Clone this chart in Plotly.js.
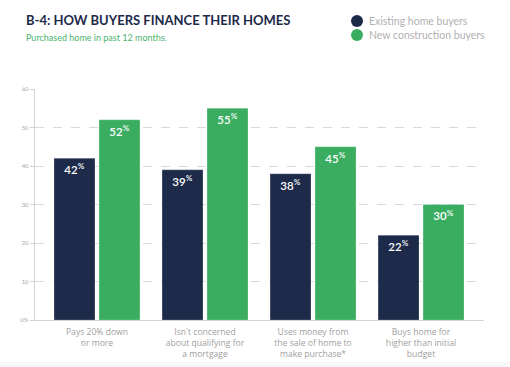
<!DOCTYPE html>
<html><head><meta charset="utf-8">
<script src="https://cdn.plot.ly/plotly-3.0.1.min.js"></script>
<style>html,body{margin:0;padding:0;background:#fff;}#chart{width:510px;height:367px;}</style>
</head><body><div id="chart"></div>
<script>
const categories = ["Pays 20% down<br>or more", "Isn't concerned<br>about qualifying for<br>a mortgage", "Uses money from<br>the sale of home to<br>make purchase*", "Buys home for<br>higher than initial<br>budget"];
const seriesNames = ["Existing home buyers", "New construction buyers"];
const existingBuyers = [42, 39, 38, 22];
const newConstruction = [52, 55, 45, 30];
const yTickVals = [0, 10, 20, 30, 40, 50, 60];
const yTickText = ["0%", "10", "20", "30", "40", "50", "60"];
const colors = ["#1d2a49", "#3aad61"];
const FONT = "Lato, 'Open Sans', sans-serif";

// plot area pixels: x 35..484, y 89..320
const PX = px => (px - 35) / 449;
const PY = py => (320 - py) / 231;

function barTrace(name, vals, color) {
  return {
    type: "bar", x: categories, y: vals, name: name, showlegend: false,
    marker: {color: color, line: {color: "rgba(255,255,255,0.35)", width: 0.6}},
    text: vals.map(v => v + "<sup>%</sup>"), texttemplate: "%{text}",
    textposition: "inside", insidetextanchor: "end",
    textfont: {color: "#ffffff", size: 11.5, family: FONT, weight: 600},
    hoverinfo: "skip", cliponaxis: false
  };
}

const data = [
  barTrace(seriesNames[0], existingBuyers, colors[0]),
  barTrace(seriesNames[1], newConstruction, colors[1])
];

const legendY = [21, 35];
const annotations = [
  {text: "B-4: HOW BUYERS FINANCE THEIR HOMES", xref: "paper", yref: "paper",
   x: PX(24), y: PY(20), xanchor: "left", yanchor: "middle", showarrow: false,
   font: {size: 13, color: "#1d2a49", family: FONT, weight: 700}},
  {text: "Purchased home in past 12 months.", xref: "paper", yref: "paper",
   x: PX(24), y: PY(37), xanchor: "left", yanchor: "middle", showarrow: false,
   font: {size: 9, color: "#4cb36e", family: FONT}}
];
const shapes = [
  {type: "rect", xref: "paper", yref: "paper", x0: PX(0), x1: PX(510), y0: PY(362), y1: PY(367),
   fillcolor: "#f8f8f8", line: {width: 0}, layer: "below"}
];
seriesNames.forEach((n, i) => {
  annotations.push({text: n, xref: "paper", yref: "paper", x: PX(367), y: PY(legendY[i]),
    xanchor: "left", yanchor: "middle", showarrow: false,
    font: {size: 10.5, color: "#b0b0b0", family: FONT}});
  shapes.push({type: "circle", xref: "paper", yref: "paper", xsizemode: "pixel", ysizemode: "pixel",
    xanchor: PX(357), yanchor: PY(legendY[i]), x0: -6, x1: 6, y0: -6, y1: 6,
    fillcolor: colors[i], line: {width: 0}});
});

const layout = {
  width: 510, height: 367,
  margin: {l: 35, r: 26, t: 89, b: 47},
  paper_bgcolor: "#ffffff", plot_bgcolor: "#ffffff",
  font: {family: FONT, color: "#999"},
  barmode: "group", bargap: 0.167, bargroupgap: 0.09,
  showlegend: false,
  xaxis: {
    range: [-0.574, 3.583], showgrid: false, zeroline: false,
    showline: true, linecolor: "#d4d4d4", linewidth: 1.2,
    tickfont: {size: 8.6, color: "#a0a0a0", family: "'Open Sans', sans-serif"},
    ticks: "", ticklen: 0, ticklabelstandoff: 3, fixedrange: true, automargin: false
  },
  yaxis: {
    range: [0, 60], tickvals: yTickVals, ticktext: yTickText,
    showgrid: true, gridcolor: "#d9d9d9", griddash: "dash", gridwidth: 1,
    zeroline: false, showline: true, linecolor: "#d4d4d4", linewidth: 1.2,
    ticks: "outside", ticklen: 4, tickcolor: "#d4d4d4", tickwidth: 1,
    tickfont: {size: 6, color: "#aaaaaa", family: FONT}, fixedrange: true, automargin: false
  },
  annotations: annotations,
  shapes: shapes
};

Plotly.newPlot("chart", data, layout, {displayModeBar: false, staticPlot: true});
</script></body></html>
